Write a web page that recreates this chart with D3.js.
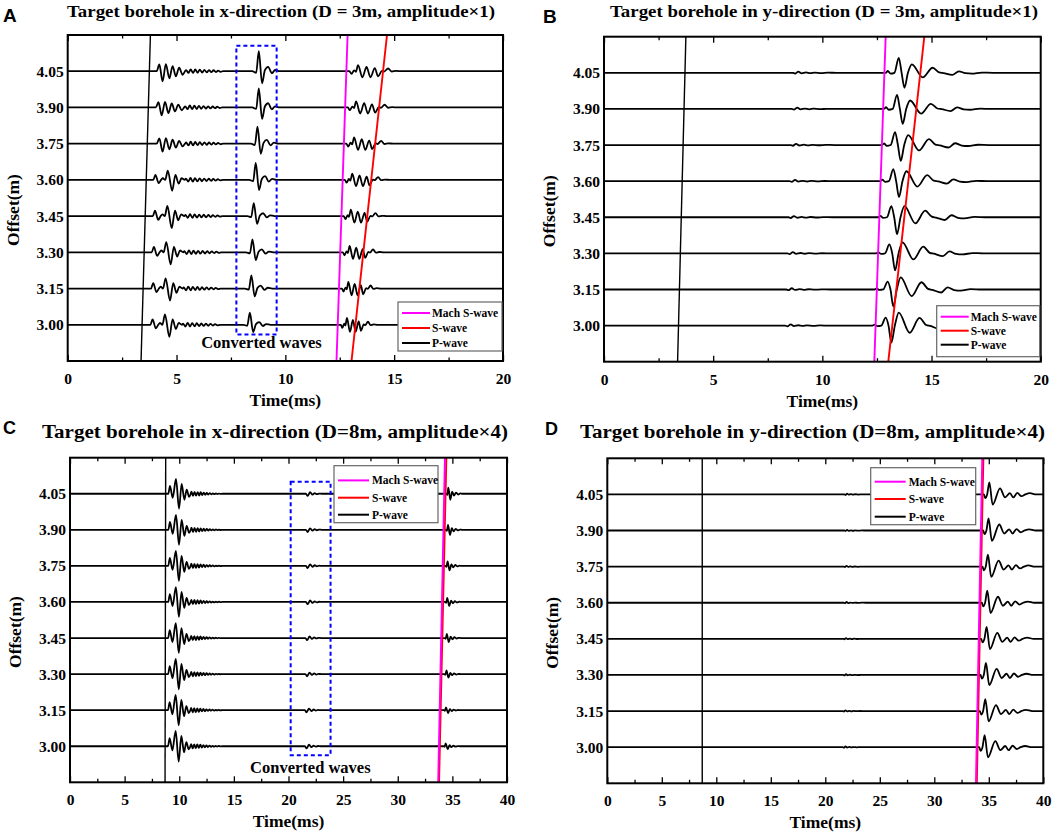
<!DOCTYPE html>
<html>
<head>
<meta charset="utf-8">
<script src="https://cdn.jsdelivr.net/npm/d3@7"></script>
<style>
  body { margin: 0; background: #fff; }
  svg text { font-family: "Liberation Serif", "Times New Roman", serif; font-weight: bold; fill: #000; }
  .letter { font-family: "Liberation Sans", Arial, sans-serif !important; }
</style>
</head>
<body>
<svg id="fig" width="1059" height="834"></svg>
<script>
// ---------- shared values ----------
const offsets = [3.00, 3.15, 3.30, 3.45, 3.60, 3.75, 3.90, 4.05];
const offsetDomain = [2.85, 4.20];
const legendNames = ["Mach S-wave", "S-wave", "P-wave"];
const legendColors = ["#ff00ff", "#ff0000", "#000000"];
const shortTimeTicks = [0, 5, 10, 15, 20];
const shortTimeMinor = [2.5, 7.5, 12.5, 17.5];
const longTimeTicks = [0, 5, 10, 15, 20, 25, 30, 35, 40];
const longTimeMinor = [2.5, 7.5, 12.5, 17.5, 22.5, 27.5, 32.5, 37.5];

// wavelet shapes: [time after onset (ms), relative amplitude]
// per-trace arrays run from offset 3.00 up to 4.05, gains in metres of offset axis

// ---------- A: x-direction, D = 3 m ----------
const aPArrival = [3.37, 3.80];      // time at bottom / top of axis
const aMachArrival = [12.35, 12.86];
const aSArrival = [13.04, 14.67];
const aBoxTime = [7.75, 9.6];
const aBoxOffset = [2.96, 4.155];
const aBoxLabel = [8.9, 2.905];

const aPBurst = [[0,0],[0.12,0.67],[0.27,-1],[0.42,0.7],[0.58,-0.7],[0.73,0.5],[0.88,-0.5],[1.03,0.35],[1.19,-0.35],[1.3,0]];
const aPBurstT0 = [0, 0, 0, 0, 0, 4.09, 4.05, 4.09];
const aPBurstGain = [0, 0, 0, 0, 0, 0.033, 0.033, 0.042];

const aPPulse = [[0,0],[0.1,0.45],[0.25,-0.3],[0.36,0],[0.44,0.15],[0.55,0],[0.67,0.85],[0.87,-1],[1.02,0.45],[1.17,-0.35],[1.3,0.15],[1.45,0]];
const aPPulseT0 = [3.8, 3.83, 3.86, 3.91, 3.93, 0, 0, 0];
const aPPulseGain = [0.05, 0.05, 0.05, 0.05, 0.045, 0, 0, 0];

const aCoda = [[0,0],[0.05,0.6],[0.16,-0.9],[0.26,1],[0.37,-0.9],[0.47,0.9],[0.58,-0.8],[0.68,0.8],[0.79,-0.7],[0.89,0.7],[1.0,-0.6],[1.1,0.6],[1.21,-0.5],[1.31,0.5],[1.42,-0.4],[1.52,0.35],[1.63,-0.3],[1.75,0]];
const aCodaT0 = [5.25, 5.28, 5.31, 5.36, 5.38, 5.39, 5.35, 5.39];
const aCodaGain = [0.008, 0.008, 0.008, 0.008, 0.008, 0.008, 0.008, 0.008];

const aConv = [[-0.3,0],[-0.12,-0.08],[0,1],[0.15,-0.6],[0.28,0.05],[0.43,0.22],[0.6,-0.1],[0.75,0.06],[0.95,0]];
const aConvPeak = [8.37, 8.44, 8.49, 8.55, 8.64, 8.72, 8.78, 8.78];
const aConvGain = [0.05, 0.054, 0.054, 0.054, 0.07, 0.07, 0.079, 0.083];

const aSWave = [[0,0],[0.1,-0.45],[0.22,0.15],[0.3,-0.1],[0.4,1],[0.6,-1],[0.79,0.7],[0.97,-1],[1.17,0.5],[1.32,-0.85],[1.5,0.05],[1.6,-0.05],[1.78,0.45],[1.95,-0.05],[2.15,0.05],[2.4,0]];
const aSWaveT0 = [12.55, 12.6, 12.64, 12.68, 12.73, 12.8, 12.87, 12.94];
const aSWaveStretch = [0.7, 0.74, 0.78, 0.82, 0.86, 0.9, 0.95, 1.0];
const aSWaveGain = [0.029, 0.028, 0.027, 0.027, 0.026, 0.026, 0.025, 0.025];

// ---------- B: y-direction, D = 3 m ----------
const bPArrival = [3.37, 3.75];
const bMachArrival = [12.38, 12.9];
const bSArrival = [13.02, 14.67];

const bWiggle = [[0,0],[0.1,-0.6],[0.25,1],[0.4,-0.4],[0.6,0.3],[0.8,-0.3],[1.0,0.2],[1.3,-0.2],[1.6,0.1],[2.0,0]];
const bWiggleT0 = [8.3, 8.35, 8.4, 8.45, 8.5, 8.55, 8.6, 8.65];
const bWiggleGain = [0.005, 0.005, 0.005, 0.005, 0.005, 0.005, 0.005, 0.005];

const bSPeak = [12.9, 12.99, 13.07, 13.16, 13.25, 13.33, 13.42, 13.5];
const bSFirst = [[-0.6,0],[-0.5,0.12],[-0.38,-0.06],[-0.2,0],[0,1],[0.13,0]];
const bSFirstGain = [0.033, 0.033, 0.037, 0.046, 0.05, 0.054, 0.058, 0.062];
const bSTrough = [[0.13,0],[0.26,-1],[0.42,0]];
const bSTroughGain = [0.071, 0.071, 0.071, 0.07, 0.066, 0.066, 0.062, 0.062];
const bSTail = [[0.42,0],[0.6,1],[1.1,-0.55],[1.55,0.6],[1.85,0.05],[2.05,-0.03],[2.45,-0.25],[2.75,0.18],[3.05,-0.05],[3.35,-0.1],[3.8,0.03],[4.3,0]];
const bSTailGain = [0.054, 0.05, 0.046, 0.046, 0.041, 0.041, 0.035, 0.035];

// ---------- C: x-direction, D = 8 m ----------
const cPArrival = [8.7, 8.76];
const cMachArrival = [33.7, 34.32];
const cSArrival = [33.78, 34.45];
const cBoxTime = [20.2, 23.85];
const cBoxOffset = [2.963, 4.10];
const cBoxLabel = [22, 2.888];

const cPWave = [[0,0],[0.15,0.53],[0.4,-0.27],[0.7,1],[0.98,-1],[1.22,0.67],[1.47,-0.4],[1.68,0.27],[1.9,-0.2],[2.05,0]];
const cPWaveT0 = [8.97, 8.97, 8.98, 8.98, 8.99, 8.99, 9.0, 9.0];
const cPWaveGain = [0.064, 0.063, 0.063, 0.062, 0.062, 0.062, 0.062, 0.062];

const cCoda = [[0,0],[0.07,1],[0.21,-1],[0.35,0.9],[0.49,-0.9],[0.63,0.8],[0.77,-0.8],[0.91,0.7],[1.05,-0.6],[1.19,0.55],[1.33,-0.5],[1.47,0.4],[1.61,-0.35],[1.75,0.3],[1.89,-0.25],[2.03,0.2],[2.17,-0.2],[2.31,0.15],[2.45,-0.12],[2.59,0.1],[2.73,-0.08],[2.9,0]];
const cCodaT0 = [11.02, 11.02, 11.03, 11.03, 11.04, 11.04, 11.05, 11.05];
const cCodaGain = [0.009, 0.009, 0.009, 0.009, 0.009, 0.009, 0.009, 0.009];

const cConv = [[0,0],[0.15,-1],[0.38,0.7],[0.6,-0.4],[0.8,0.3],[1.0,-0.2],[1.2,0.1],[1.45,0]];
const cConvT0 = [21.5, 21.5, 21.55, 21.55, 21.6, 21.6, 21.6, 21.6];
const cConvGain = [0.009, 0.009, 0.009, 0.009, 0.009, 0.009, 0.009, 0.009];

const cSWave = [[0,0],[0.1,-0.2],[0.2,1],[0.38,-1],[0.55,0.35],[0.72,-0.3],[0.9,0.2],[1.1,-0.12],[1.3,0.06],[1.5,0]];
const cSWaveT0 = [34.19, 34.22, 34.26, 34.29, 34.33, 34.36, 34.4, 34.43];
const cSWaveGain = [0.012, 0.012, 0.015, 0.017, 0.017, 0.019, 0.021, 0.025];

// ---------- D: y-direction, D = 8 m ----------
const dPArrival = [8.71, 8.71];
const dMachArrival = [33.82, 34.4];
const dSArrival = [33.9, 34.5];

const dWiggleT0 = [21.6, 21.6, 21.65, 21.65, 21.7, 21.7, 21.75, 21.75];
const dWiggleGain = [0.003, 0.003, 0.003, 0.003, 0.003, 0.003, 0.003, 0.003];

const dSWave = [[-0.5,0],[-0.38,-0.3],[-0.2,0],[0,1],[0.3,-0.85],[0.98,0.5],[1.44,-0.25],[1.89,0.1],[2.2,-0.25],[2.56,0.12],[2.95,-0.15],[3.3,0],[3.73,0.1],[4.3,0]];
const dSWavePeak = [34.62, 34.68, 34.74, 34.8, 34.86, 34.92, 34.98, 35.05];
const dSWaveGain = [0.05, 0.05, 0.05, 0.05, 0.05, 0.05, 0.05, 0.05];

// ---------- panel table built from the arrays above ----------
const panels = [
  {
    letter: "A", letterAt: [3, 22], letterSize: 19,
    title: "Target borehole in x-direction (D = 3m, amplitude×1)",
    titleAt: [281, 16.5], titleSize: 16.5, titleWidth: 428,
    frame: { l: 67.7, r: 503, t: 35, b: 361 },
    time: [0, 20], ticks: shortTimeTicks, minor: shortTimeMinor,
    arrivals: [aPArrival, aSArrival, aMachArrival],
    events: [
      { tpl: aPBurst, t0: aPBurstT0, gain: aPBurstGain },
      { tpl: aPPulse, t0: aPPulseT0, gain: aPPulseGain },
      { tpl: aCoda, t0: aCodaT0, gain: aCodaGain },
      { tpl: aConv, t0: aConvPeak, gain: aConvGain },
      { tpl: aSWave, t0: aSWaveT0, gain: aSWaveGain, stretch: aSWaveStretch }
    ],
    box: { time: aBoxTime, offset: aBoxOffset, label: aBoxLabel },
    legend: { dx: -105, dy: -59, w: 104, h: 49, rows: [11, 26, 41], line: [4, 32], text: 34, anchor: "rb" }
  },
  {
    letter: "B", letterAt: [543, 23], letterSize: 19,
    title: "Target borehole in y-direction (D = 3m, amplitude×1)",
    titleAt: [824, 16.5], titleSize: 16.5, titleWidth: 428,
    frame: { l: 604, r: 1040.7, t: 36.7, b: 361.7 },
    time: [0, 20], ticks: shortTimeTicks, minor: shortTimeMinor,
    arrivals: [bPArrival, bSArrival, bMachArrival],
    events: [
      { tpl: bWiggle, t0: bWiggleT0, gain: bWiggleGain },
      { tpl: bSFirst, t0: bSPeak, gain: bSFirstGain },
      { tpl: bSTrough, t0: bSPeak, gain: bSTroughGain },
      { tpl: bSTail, t0: bSPeak, gain: bSTailGain }
    ],
    legend: { dx: -104, dy: -56, w: 103, h: 51, rows: [11, 25, 39], line: [4, 32], text: 34, anchor: "rb" }
  },
  {
    letter: "C", letterAt: [3, 434], letterSize: 18,
    title: "Target borehole in x-direction (D=8m, amplitude×4)",
    titleAt: [275, 437.5], titleSize: 18.5, titleWidth: 466,
    frame: { l: 70, r: 507, t: 457.7, b: 782.3 },
    time: [0, 40], ticks: longTimeTicks, minor: longTimeMinor,
    arrivals: [cPArrival, cSArrival, cMachArrival],
    events: [
      { tpl: cPWave, t0: cPWaveT0, gain: cPWaveGain },
      { tpl: cCoda, t0: cCodaT0, gain: cCodaGain },
      { tpl: cConv, t0: cConvT0, gain: cConvGain },
      { tpl: cSWave, t0: cSWaveT0, gain: cSWaveGain }
    ],
    box: { time: cBoxTime, offset: cBoxOffset, label: cBoxLabel },
    legend: { dx: -173, dy: 8, w: 104, h: 57, rows: [14.7, 32, 49], line: [4, 35], text: 38, anchor: "rt" }
  },
  {
    letter: "D", letterAt: [545, 435], letterSize: 18,
    title: "Target borehole in y-direction (D=8m, amplitude×4)",
    titleAt: [812.5, 438], titleSize: 18.5, titleWidth: 465,
    frame: { l: 607.3, r: 1043.3, t: 458.3, b: 783.3 },
    time: [0, 40], ticks: longTimeTicks, minor: longTimeMinor,
    arrivals: [dPArrival, dSArrival, dMachArrival],
    events: [
      { tpl: bWiggle, t0: dWiggleT0, gain: dWiggleGain },
      { tpl: dSWave, t0: dSWavePeak, gain: dSWaveGain }
    ],
    legend: { dx: -172.6, dy: 9.4, w: 105, h: 57, rows: [14, 31.3, 49], line: [4, 35], text: 38, anchor: "rt" }
  }
];

const svg = d3.select("#fig");

// join the wavelet pieces of one trace into a list of [time, amplitude]
function tracePoints(events, i, time) {
  const pts = [[time[0], 0]];
  events.forEach(ev => {
    const g = ev.gain[i];
    if (!g) return;
    const s = ev.stretch ? ev.stretch[i] : 1;
    ev.tpl.forEach(([dt, a]) => pts.push([ev.t0[i] + dt * s, a * g]));
  });
  pts.push([time[1], 0]);
  pts.sort((p, q) => p[0] - q[0]);
  return pts.filter((p, k) => k === 0 || p[0] - pts[k - 1][0] > 1e-6);
}

panels.forEach(p => {
  const f = p.frame;
  const x = d3.scaleLinear().domain(p.time).range([f.l, f.r]);
  const y = d3.scaleLinear().domain(offsetDomain).range([f.b, f.t]);
  const g = svg.append("g");

  // traces
  const line = d3.line().curve(d3.curveMonotoneX);
  offsets.forEach((off, i) => {
    const pts = tracePoints(p.events, i, p.time);
    g.append("path")
      .attr("d", line.x(d => x(d[0])).y(d => y(off + d[1]))(pts))
      .attr("fill", "none").attr("stroke", "#000").attr("stroke-width", 1.8)
      .attr("stroke-linejoin", "round");
  });

  // arrival lines: P, S, Mach S
  const arrColors = ["#000", "#ff0000", "#ff00ff"];
  const arrWidths = [1.4, 1.9, 1.9];
  p.arrivals.forEach((a, k) => {
    g.append("line")
      .attr("x1", x(a[0])).attr("y1", y(offsetDomain[0]))
      .attr("x2", x(a[1])).attr("y2", y(offsetDomain[1]))
      .attr("stroke", arrColors[k]).attr("stroke-width", arrWidths[k]);
  });

  // converted-wave box
  if (p.box) {
    g.append("rect")
      .attr("x", x(p.box.time[0])).attr("y", y(p.box.offset[1]))
      .attr("width", x(p.box.time[1]) - x(p.box.time[0]))
      .attr("height", y(p.box.offset[0]) - y(p.box.offset[1]))
      .attr("fill", "none").attr("stroke", "#0000ff").attr("stroke-width", 2)
      .attr("stroke-dasharray", "4,3");
    g.append("text")
      .attr("x", x(p.box.label[0])).attr("y", y(p.box.label[1]))
      .attr("text-anchor", "middle").attr("font-size", 16.5)
      .text("Converted waves");
  }

  // frame
  g.append("rect")
    .attr("x", f.l).attr("y", f.t).attr("width", f.r - f.l).attr("height", f.b - f.t)
    .attr("fill", "none").attr("stroke", "#000").attr("stroke-width", 2);

  // x axes (inward ticks, top and bottom)
  const bottom = g.append("g").attr("transform", `translate(0,${f.b})`)
    .call(d3.axisBottom(x).tickValues(p.ticks).tickSize(-6).tickPadding(12).tickFormat(d3.format("d")));
  g.append("g").attr("transform", `translate(0,${f.b})`)
    .call(d3.axisBottom(x).tickValues(p.minor).tickSize(-3.5).tickFormat(""));
  g.append("g").attr("transform", `translate(0,${f.t})`)
    .call(d3.axisTop(x).tickValues(p.ticks).tickSize(-6).tickFormat(""));
  g.append("g").attr("transform", `translate(0,${f.t})`)
    .call(d3.axisTop(x).tickValues(p.minor).tickSize(-3.5).tickFormat(""));
  bottom.selectAll("text").attr("font-size", 15.5).attr("font-family", null);

  // y axis labels
  const left = g.append("g").attr("transform", `translate(${f.l},0)`)
    .call(d3.axisLeft(y).tickValues(offsets).tickSize(0).tickPadding(4).tickFormat(d3.format(".2f")));
  left.selectAll("text").attr("font-size", 15.5).attr("font-family", null);

  g.selectAll(".domain").remove();
  g.selectAll(".tick line").attr("stroke", "#000").attr("stroke-width", 1.3);
  g.selectAll(".tick text").attr("fill", "#000");

  // axis titles
  g.append("text")
    .attr("x", (f.l + f.r) / 2).attr("y", f.b + 45)
    .attr("text-anchor", "middle").attr("font-size", 17.5)
    .text("Time(ms)");
  g.append("text")
    .attr("transform", `translate(${f.l - 49},${(f.t + f.b) / 2 + 12}) rotate(-90)`)
    .attr("text-anchor", "middle").attr("font-size", 17.5)
    .text("Offset(m)");

  // legend
  const L = p.legend;
  const lx = f.r + L.dx;
  const ly = (L.anchor === "rb" ? f.b : f.t) + L.dy;
  const lg = g.append("g").attr("transform", `translate(${lx},${ly})`);
  lg.append("rect").attr("width", L.w).attr("height", L.h)
    .attr("fill", "#fff").attr("stroke", "#666").attr("stroke-width", 1.2);
  legendNames.forEach((name, k) => {
    lg.append("line")
      .attr("x1", L.line[0]).attr("x2", L.line[1])
      .attr("y1", L.rows[k]).attr("y2", L.rows[k])
      .attr("stroke", legendColors[k]).attr("stroke-width", 2);
    lg.append("text")
      .attr("x", L.text).attr("y", L.rows[k] + 4)
      .attr("font-size", 11.5).text(name);
  });

  // titles and panel letters
  svg.append("text")
    .attr("x", p.titleAt[0]).attr("y", p.titleAt[1])
    .attr("text-anchor", "middle").attr("font-size", p.titleSize)
    .attr("textLength", p.titleWidth).attr("lengthAdjust", "spacingAndGlyphs")
    .text(p.title);
  svg.append("text").attr("class", "letter")
    .attr("x", p.letterAt[0]).attr("y", p.letterAt[1])
    .attr("font-size", p.letterSize)
    .text(p.letter);
});
</script>
</body>
</html>
